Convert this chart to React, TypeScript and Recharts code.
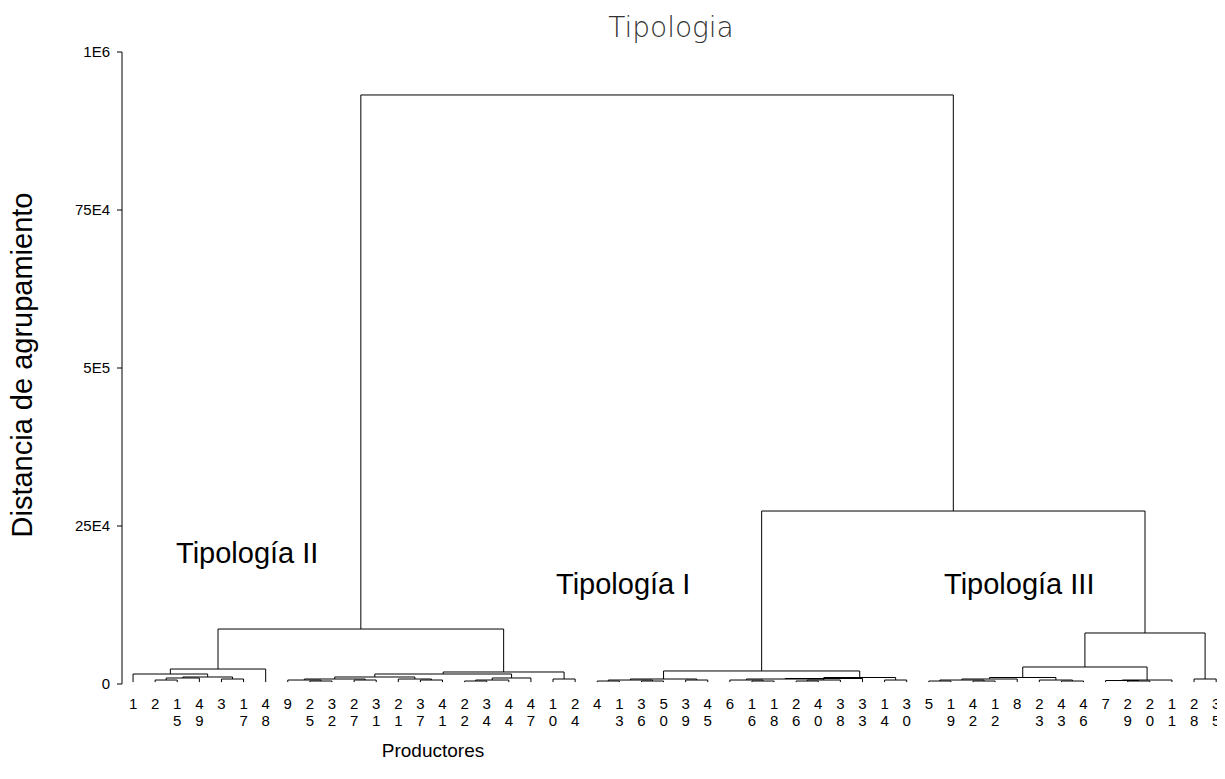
import { LineChart, Line, XAxis, YAxis } from 'recharts';

const FONT = '"Liberation Sans", Arial, sans-serif';

// leaf order as drawn, left to right
const LEAF_LABELS = [
  '1', '2', '15', '49', '3', '17', '48', '9', '25', '32', '27', '31', '21', '37', '41', '22', '34',
  '44', '47', '10', '24', '4', '13', '36', '50', '39', '45', '6', '16', '18', '26', '40', '38', '33',
  '14', '30', '5', '19', '42', '12', '8', '23', '43', '46', '7', '29', '20', '11', '28', '35',
];

// hclust style merges: negative = leaf (-(pos+1)), positive = earlier merge (1-based)
const MERGE_A = [
  -2, 1, -5, 2, -1, 5, -9, -8, -11, 8, -14, -13, 10, -16, 14, 15, 13, -20, 17, 6,
  -22, -24, 21, -26, 23, -29, -28, -31, 28, 27, 30, -35, 31, 25,
  -37, -39, 35, 37, -43, -42, 38, -46, -45, 43, 41, -49, 45, 34, 20,
];
const MERGE_B = [
  -3, -4, -6, 3, 4, -7, -10, 7, -12, 9, -15, 11, 12, -17, -18, -19, 16, -21, 18, 19,
  -23, -25, 22, -27, 24, -30, 26, -32, -33, 29, -34, -36, 32, 33,
  -38, -40, 36, -41, -44, 39, 40, -47, 42, -48, 44, -50, 46, 47, 48,
];
const MERGE_H = [
  6300, 9500, 7900, 11100, 15800, 23700, 4700, 6300, 6300, 7900, 6300, 7900, 11100, 4700, 6300,
  9500, 15800, 7900, 19000, 87000,
  4700, 4700, 6300, 6300, 7900, 4700, 6300, 4700, 6300, 7900, 8700, 6300, 10300, 20600,
  4700, 4700, 6300, 7900, 4700, 6300, 10300, 4700, 5500, 6300, 26900, 7900, 80700, 273700, 932000,
];
const LEAF_BASE = 3000;

const Y_TICKS = [0, 250000, 500000, 750000, 1000000];
const Y_TICK_LABELS = ['0', '25E4', '5E5', '75E4', '1E6'];

type Pt = { x: number; y: number | null };

function buildSegments(): Pt[] {
  const nodeX: number[] = [];
  const nodeH: number[] = [];
  const at = (ref: number) =>
    ref < 0 ? { x: -ref - 1, h: LEAF_BASE } : { x: nodeX[ref - 1], h: nodeH[ref - 1] };
  const pts: Pt[] = [];
  MERGE_A.forEach((a, i) => {
    const l = at(a);
    const r = at(MERGE_B[i]);
    const h = MERGE_H[i];
    pts.push({ x: l.x, y: l.h }, { x: l.x, y: h }, { x: r.x, y: h }, { x: r.x, y: r.h }, { x: r.x, y: null });
    nodeX.push((l.x + r.x) / 2);
    nodeH.push(h);
  });
  return pts;
}

const segments = buildSegments();
const leafTicks = LEAF_LABELS.map((_, i) => i);

function LeafTick(props: any) {
  const { x, payload } = props;
  const label = LEAF_LABELS[payload.value] ?? '';
  return (
    <g>
      <text x={x} y={709} textAnchor="middle" fontSize={15} fontFamily={FONT} fill="#000">
        {label[0]}
      </text>
      {label.length > 1 && (
        <text x={x} y={726} textAnchor="middle" fontSize={15} fontFamily={FONT} fill="#000">
          {label[1]}
        </text>
      )}
    </g>
  );
}

export default function App() {
  return (
    <div style={{ position: 'relative', width: 1225, height: 779, margin: -8 }}>
      <LineChart width={1225} height={779} data={segments} margin={{ top: 52, right: 0, bottom: 55, left: 60 }}>
        <XAxis
          type="number"
          dataKey="x"
          domain={[-0.5, 49.4]}
          ticks={leafTicks}
          interval={0}
          axisLine={false}
          tickLine={false}
          height={40}
          tick={<LeafTick />}
          allowDataOverflow
        />
        <YAxis
          type="number"
          domain={[0, 1000000]}
          ticks={Y_TICKS}
          width={62}
          tickSize={5}
          tickMargin={7}
          axisLine={{ stroke: '#000' }}
          tickLine={{ stroke: '#000' }}
          tick={{ fontSize: 15, fill: '#000', fontFamily: FONT }}
          tickFormatter={(v: number) => Y_TICK_LABELS[Y_TICKS.indexOf(v)]}
        />
        <Line
          type="linear"
          dataKey="y"
          stroke="#000"
          strokeWidth={1}
          dot={false}
          activeDot={false}
          connectNulls={false}
          isAnimationActive={false}
        />
      </LineChart>
      <svg width={1225} height={779} style={{ position: 'absolute', left: 0, top: 0, pointerEvents: 'none' }}>
        <text x={671} y={37} textAnchor="middle" fontSize={28} fontWeight={200} fontFamily='"DejaVu Sans", sans-serif' fill="#333">
          Tipologia
        </text>
        <text x={32} y={365} transform="rotate(-90 32 365)" textAnchor="middle" fontSize={29} fontFamily={FONT} fill="#000">
          Distancia de agrupamiento
        </text>
        <text x={433} y={757} textAnchor="middle" fontSize={19} fontFamily={FONT} fill="#000">
          Productores
        </text>
        <text x={176} y={563} fontSize={29} fontFamily={FONT} fill="#000">Tipología II</text>
        <text x={556} y={594} fontSize={29} fontFamily={FONT} fill="#000">Tipología I</text>
        <text x={944} y={594} fontSize={29} fontFamily={FONT} fill="#000">Tipología III</text>
      </svg>
    </div>
  );
}
